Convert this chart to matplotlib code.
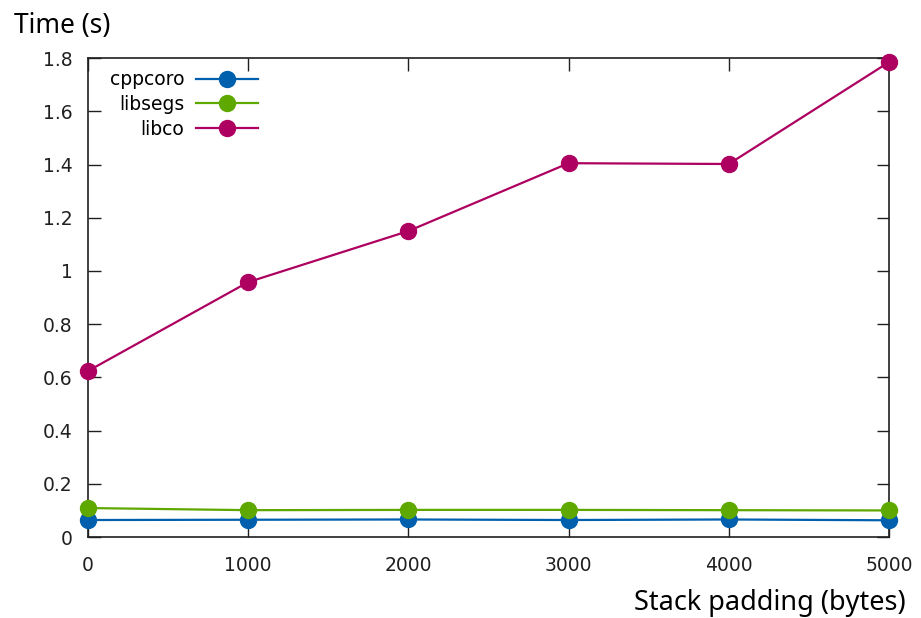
import numpy as np
import matplotlib
matplotlib.use("Agg")
from matplotlib import pyplot as plt

# Stack padding sweep
padding = [0, 1000, 2000, 3000, 4000, 5000]
cppcoro = [0.064, 0.065, 0.066, 0.064, 0.066, 0.063]
libsegs = [0.109, 0.101, 0.102, 0.102, 0.101, 0.100]
libco = [0.624, 0.958, 1.150, 1.405, 1.402, 1.785]

names = ["cppcoro", "libsegs", "libco"]
colors = ["#0060ad", "#5ea800", "#ad0060"]
yticks = [0, 0.2, 0.4, 0.6, 0.8, 1, 1.2, 1.4, 1.6, 1.8]
ytick_labels = ["0", "0.2", "0.4", "0.6", "0.8", "1", "1.2", "1.4", "1.6", "1.8"]

fig = plt.figure(figsize=(9.21, 6.18), dpi=100)
ax = fig.add_axes([0.0955, 0.131, 0.8698, 0.775])

for name, vals, col in zip(names, [cppcoro, libsegs, libco], colors):
    ax.plot(padding, vals, color=col, lw=1.6, marker="o", ms=11.5,
            label=name, clip_on=False, zorder=3)

ax.set_xlim(0, 5000)
ax.set_ylim(0, 1.8)
ax.set_xticks(padding)
ax.set_yticks(yticks)
ax.set_yticklabels(ytick_labels)
ax.tick_params(direction="in", length=9, width=1, labelsize=13.5,
               top=True, right=True, pad=11, colors="#202020")
ax.tick_params(axis="x", pad=14)
for s in ax.spines.values():
    s.set_linewidth(1.2)
    s.set_color("#202020")

leg = ax.legend(loc="upper left", markerfirst=False, frameon=False,
                fontsize=13.5, handlelength=3.3, handletextpad=0.6,
                labelspacing=0.3, bbox_to_anchor=(0.018, 0.99),
                borderaxespad=0.0)

fig.text(0.015, 0.958, "Time (s)", fontsize=19, family="Noto Sans",
         ha="left", va="center")
fig.text(0.983, 0.024, "Stack padding (bytes)", fontsize=19.5,
         family="Noto Sans", ha="right", va="center")

fig.savefig("out.png", dpi=100)
